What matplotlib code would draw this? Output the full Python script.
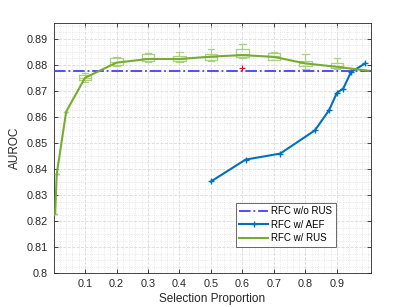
import numpy as np
import matplotlib
matplotlib.use("Agg")
import matplotlib.pyplot as plt
from matplotlib.ticker import MultipleLocator

plt.rcParams['font.family'] = ['Liberation Sans', 'DejaVu Sans']

# baseline: RFC without undersampling
baseline = 0.8777

# RFC w/ AEF
aef_x = [0.5, 0.61, 0.72, 0.83, 0.875, 0.9, 0.92, 0.945, 0.99]
aef_y = [0.8352, 0.8436, 0.8459, 0.8548, 0.8625, 0.8692, 0.8708, 0.8772, 0.8805]

# RFC w/ RUS (mean line)
rus_x = [0.005, 0.01, 0.04, 0.1, 0.2, 0.3, 0.4, 0.5, 0.6, 0.7, 0.8, 0.9, 1.0]
rus_y = [0.8228, 0.838, 0.862, 0.875, 0.8808, 0.8822, 0.8822, 0.8831, 0.8837,
         0.8830, 0.8805, 0.8792, 0.8777]

# box statistics for RUS repeats
box_x = [0.005, 0.01, 0.04, 0.1, 0.2, 0.3, 0.4, 0.5, 0.6, 0.7, 0.8, 0.9]
box_med = [0.8228, 0.838, 0.862, 0.8750, 0.8810, 0.8825, 0.8822, 0.8830, 0.8840, 0.8832, 0.8806, 0.8796]
box_q1 = [0.8228, 0.838, 0.862, 0.8743, 0.8798, 0.8813, 0.8816, 0.8820, 0.8830, 0.8820, 0.8795, 0.8788]
box_q3 = [0.8228, 0.838, 0.862, 0.8759, 0.8827, 0.8842, 0.8833, 0.8842, 0.8859, 0.8846, 0.8816, 0.8808]
box_lo = [0.8228, 0.838, 0.862, 0.8735, 0.8795, 0.8810, 0.8812, 0.8814, 0.8826, 0.8818, 0.8785, 0.8785]
box_hi = [0.8228, 0.838, 0.862, 0.8769, 0.8830, 0.8845, 0.8850, 0.8859, 0.8878, 0.8850, 0.8842, 0.8825]
outlier_x = [0.6]
outlier_y = [0.8788]

green = '#77AC30'
box_col = '#a9d07e'
aef_col = '#0072BD'

fig = plt.figure(figsize=(4.09, 3.07), dpi=100)
ax = fig.add_axes([0.131, 0.110, 0.775, 0.815])

stats = []
for i in range(len(box_x)):
    stats.append(dict(med=box_med[i], q1=box_q1[i], q3=box_q3[i],
                      whislo=box_lo[i], whishi=box_hi[i], fliers=[]))
widths = [0.012 if x < 0.05 else 0.04 for x in box_x]
ax.bxp(stats, positions=box_x, widths=widths, showfliers=False, manage_ticks=False,
       boxprops=dict(color=box_col, lw=0.9),
       whiskerprops=dict(color=box_col, lw=0.9),
       capprops=dict(color=box_col, lw=0.9),
       medianprops=dict(color=box_col, lw=0.9), zorder=3)
ax.plot(outlier_x, outlier_y, '+', color='red', ms=4, mew=0.8, zorder=4)

ax.axhline(baseline, color='#4040ff', ls='-.', lw=1.3, label='RFC w/o RUS', zorder=4)
ax.plot(aef_x, aef_y, '-+', color=aef_col, lw=1.5, ms=4, mew=1.0, label='RFC w/ AEF', zorder=5)
ax.plot(rus_x, rus_y, '-', color=green, lw=1.5, label='RFC w/ RUS', zorder=5)

ax.set_xlim(0, 1.007)
ax.set_ylim(0.8, 0.896)
ax.set_xticks(np.arange(0.1, 0.95, 0.1))
ax.set_xticklabels(['0.1', '0.2', '0.3', '0.4', '0.5', '0.6', '0.7', '0.8', '0.9'])
ax.set_yticks(np.arange(0.8, 0.8951, 0.01))
ax.set_yticklabels(['0.8', '0.81', '0.82', '0.83', '0.84', '0.85', '0.86', '0.87', '0.88', '0.89'])
ax.xaxis.set_minor_locator(MultipleLocator(0.02))
ax.yaxis.set_minor_locator(MultipleLocator(0.0025))

ax.grid(True, which='major', ls='--', color='#d9d9d9', lw=0.6)
ax.grid(True, which='minor', ls=':', color='#e0e0e0', lw=0.6)
ax.set_axisbelow(True)
ax.tick_params(which='both', direction='in', top=True, right=True, colors='#262626',
               labelsize=7.8, length=3, width=0.6, pad=4)
ax.tick_params(which='minor', length=0)
for s in ax.spines.values():
    s.set_color('#262626')
    s.set_linewidth(0.6)

ax.set_xlabel('Selection Proportion', fontsize=8.5, color='#262626', labelpad=3)
ax.set_ylabel('AUROC', fontsize=8.5, color='#262626', labelpad=4)

leg = ax.legend(loc='lower right', bbox_to_anchor=(0.89, 0.106), borderaxespad=0,
                fontsize=7.0, frameon=True, fancybox=False, handlelength=3.0,
                handletextpad=0.3, labelspacing=0.35, borderpad=0.35)
leg.get_frame().set_edgecolor('#262626')
leg.get_frame().set_linewidth(0.6)

fig.savefig('out.png', dpi=100)
